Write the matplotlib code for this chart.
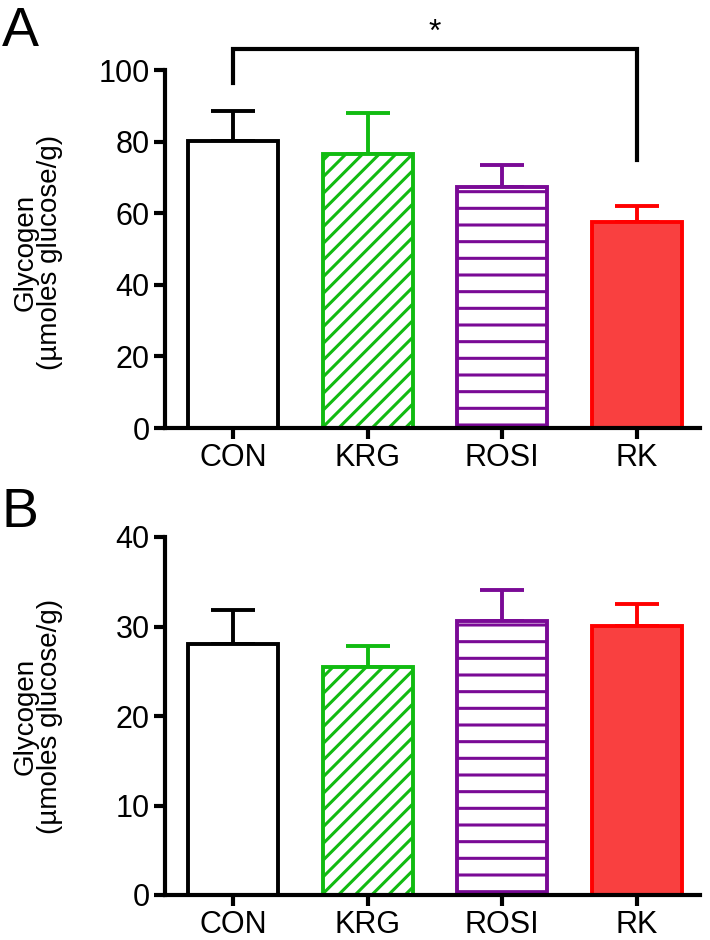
import numpy as np
import matplotlib
matplotlib.use("Agg")
import matplotlib.pyplot as plt

# data
groups = ["CON", "KRG", "ROSI", "RK"]
meanA = [80.2, 76.5, 67.3, 57.5]
topA = [88.5, 88.0, 73.5, 62.0]   # mean + SEM
meanB = [28.0, 25.5, 30.6, 30.1]
topB = [31.8, 27.8, 34.1, 32.5]

edge = ["black", "#11BB11", "#7A0A96", "#FF0000"]
face = ["white", "white", "white", "#F94040"]
hatch = [None, "//", "-", None]

plt.rcParams["font.family"] = ["Liberation Sans", "DejaVu Sans"]
plt.rcParams["hatch.linewidth"] = 2.2

W, H = 710, 940
fig = plt.figure(figsize=(W / 100, H / 100), dpi=100)


def rect(left, right, top, bottom):
    return [left / W, 1 - bottom / H, (right - left) / W, (bottom - top) / H]


def panel(r, means, tops, ylim, yticks, label_y):
    ax = fig.add_axes(r)
    x = np.arange(len(groups))
    for i in range(len(groups)):
        ax.errorbar(x[i], means[i], yerr=[[0], [tops[i] - means[i]]], color=edge[i],
                    elinewidth=2.8, capsize=16, capthick=2.8, zorder=1)
        ax.bar(x[i], means[i], width=0.668, facecolor=face[i], edgecolor=edge[i],
               linewidth=2.8, hatch=hatch[i], zorder=2)
    ax.set_xlim(-0.505, 3.47)
    ax.set_ylim(*ylim)
    ax.set_yticks(yticks)
    ax.set_xticks(x)
    ax.set_xticklabels(groups)
    for s in ["top", "right"]:
        ax.spines[s].set_visible(False)
    for s in ["left", "bottom"]:
        ax.spines[s].set_linewidth(3)
    ax.tick_params(width=3, length=8, labelsize=22, pad=3)
    fig.text(38 / W, 1 - label_y / H, "Glycogen\n(µmoles glucose/g)", rotation=90,
             ha="center", va="center", multialignment="center",
             fontsize=20, linespacing=0.95)
    return ax


axA = panel(rect(165, 700, 70, 428), meanA, topA, (0, 100), [0, 20, 40, 60, 80, 100], 252)
axB = panel(rect(165, 700, 537, 895), meanB, topB, (0, 40), [0, 10, 20, 30, 40], 716)

# significance bracket CON vs RK
yb = 105.8
axA.plot([0, 0, 3, 3], [96.5, yb, yb, 75.0], color="black", lw=3, clip_on=False,
         solid_joinstyle="miter")
axA.text(1.5, yb + 0.4, "*", ha="center", va="bottom", fontsize=23)

fig.text(2 / W, 1 - 46 / H, "A", fontsize=40, va="baseline")
fig.text(2 / W, 1 - 527 / H, "B", fontsize=40, va="baseline")

fig.savefig("out.png", dpi=100)
